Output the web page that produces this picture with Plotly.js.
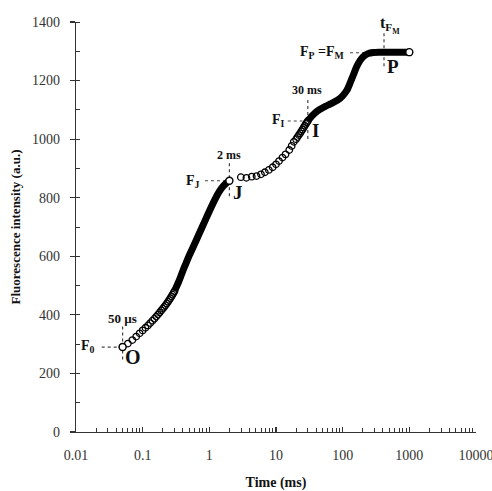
<!DOCTYPE html>
<html>
<head>
<meta charset="utf-8">
<script src="https://cdn.plot.ly/plotly-3.0.1.min.js"></script>
<style>html,body{margin:0;padding:0;background:#fff;}#chart{width:492px;height:491px;}</style>
</head>
<body>
<div id="chart"></div>
<script>
const tEarly = [0.05,0.06,0.07,0.08,0.09,0.10,0.11,0.12,0.13,0.14,0.15,0.16,0.17,0.18,0.19,0.20,0.21,0.22,0.23,0.24,0.25,0.26,0.27,0.28,0.29,0.30];
const fEarly = [290,302,314,326,337,347,356,364,372,380,387,394,401,408,415,421,427,433,439,445,451,457,463,469,475,481];
// Dense O-J band
const tOJ = [0.30,0.35,0.40,0.45,0.50,0.60,0.70,0.80,0.90,1.0,1.2,1.4,1.6,1.8,2.0];
const fOJ = [481,515,550,578,603,642,676,705,731,754,792,820,838,850,858];
// J-I phase circles
const tJI = [2.97,3.6,4.33,5.1,5.95,6.8,7.8,8.9,10,11.1,12.5,13.9,15.8,17.2,18.5,20,21,22,23,24,25,26,27,28,29,30];
const fJI = [870,868,872,874,880,887,895,904,914,925,937,948,963,977,991,1000,1007,1014,1020,1027,1033,1040,1046,1052,1057,1062];
// Dense I-P band
const tIP = [30,35,40,46,55,65,72,85,100,115,129,145,162,182,204,240,288,350,500,700,1000];
const fIP = [1062,1080,1093,1102,1112,1120,1125,1134,1148,1166,1191,1220,1247,1268,1282,1292,1296,1297,1297,1297,1297];
// Characteristic points
const tKey = [0.05, 2, 1000];
const fKey = [290, 858, 1297];

const xTickVals = [0.01,0.1,1,10,100,1000,10000];
const xTickText = ['0.01','0.1','1','10','100','1000','10000'];

const serif = 'Liberation Serif, Times New Roman, serif';
const dotLine = {color:'#444', width:1.2, dash:'dot'};
function dotted(xs, ys){ return {x:xs, y:ys, mode:'lines', line:dotLine, hoverinfo:'skip', showlegend:false}; }

const traces = [
  dotted([0.05,0.05],[360,240]),
  dotted([0.0243,0.0457],[290,290]),
  dotted([2,2],[918,799]),
  dotted([0.86,1.83],[858,858]),
  dotted([30,30],[1134,997]),
  dotted([15,25],[1062,1062]),
  dotted([417,417],[1362,1246]),
  dotted([129,243],[1295,1295]),
  {x:tOJ, y:fOJ, mode:'lines', line:{color:'#000', width:7, shape:'spline', smoothing:0.8}, showlegend:false},
  {x:tIP, y:fIP, mode:'lines', line:{color:'#000', width:7, shape:'spline', smoothing:0.7}, showlegend:false},
  {x:tEarly, y:fEarly, mode:'markers', marker:{symbol:'circle-open', size:6.5, color:'#000', line:{width:1.3, color:'#000'}}, showlegend:false},
  {x:tJI, y:fJI, mode:'markers', marker:{symbol:'circle-open', size:6.5, color:'#000', line:{width:1.3, color:'#000'}}, showlegend:false},
  {x:tKey, y:fKey, mode:'markers', marker:{symbol:'circle', size:7, color:'#fff', line:{width:1.4, color:'#000'}}, showlegend:false}
];

function ann(x, y, text, size, extra){
  return Object.assign({x:Math.log10(x), y:y, xref:'x', yref:'y', text:text, showarrow:false,
    font:{family:serif, size:size, color:'#111'}}, extra||{});
}
const annotations = [
  ann(0.05, 386, '<b>50 µs</b>', 13),
  ann(0.0151, 291, '<b>F<sub>0</sub></b>', 14),
  ann(0.0724, 257, '<b>O</b>', 20),
  ann(2.0, 946, '<b>2 ms</b>', 12),
  ann(0.569, 855, '<b>F<sub>J</sub></b>', 14),
  ann(2.72, 817, '<b>J</b>', 19),
  ann(28.8, 1168, '<b>30 ms</b>', 12),
  ann(10.8, 1063, '<b>F<sub>I</sub></b>', 14),
  ann(39.8, 1029, '<b>I</b>', 19),
  ann(513, 1390, '<b>t<sub>F<sub>M</sub></sub></b>', 16),
  ann(48.4, 1297, '<b>F<sub>P</sub> =F<sub>M</sub></b>', 14),
  ann(562, 1247, '<b>P</b>', 19)
];

const layout = {
  width:492, height:491,
  margin:{l:76, r:16, t:22, b:59},
  paper_bgcolor:'#fff', plot_bgcolor:'#fff',
  font:{family:serif, size:14, color:'#333'},
  showlegend:false,
  xaxis:{
    type:'log', range:[-2.0001,4.0001], tickmode:'array', tickvals:xTickVals, ticktext:xTickText,
    showgrid:false, zeroline:false, showline:true, linecolor:'#333', linewidth:1.2,
    ticks:'inside', ticklen:5, tickcolor:'#333', tickwidth:1.2, ticklabelstandoff:10, ticklabeloverflow:'allow',
    minor:{dtick:'D1', ticks:'inside', ticklen:4, tickcolor:'#333', tickwidth:1, showgrid:false},
    tickfont:{family:serif, size:14, color:'#333'},
    title:{text:'<b>Time (ms)</b>', font:{family:serif, size:14, color:'#111'}, standoff:21}
  },
  yaxis:{
    range:[0,1400], dtick:200, showgrid:false, zeroline:false, showline:true, linecolor:'#333', linewidth:1.2,
    ticks:'outside', ticklen:5, tickcolor:'#333', tickwidth:1.2, ticklabelstandoff:7,
    minor:{dtick:100, ticks:'inside', ticklen:4, tickcolor:'#333', tickwidth:1, showgrid:false},
    tickfont:{family:serif, size:14, color:'#333'},
    title:{text:'<b>Fluorescence intensity (a.u.)</b>', font:{family:serif, size:13, color:'#111'}, standoff:8}
  },
  annotations:annotations
};

Plotly.newPlot('chart', traces, layout, {displayModeBar:false, staticPlot:true});
</script>
</body>
</html>
